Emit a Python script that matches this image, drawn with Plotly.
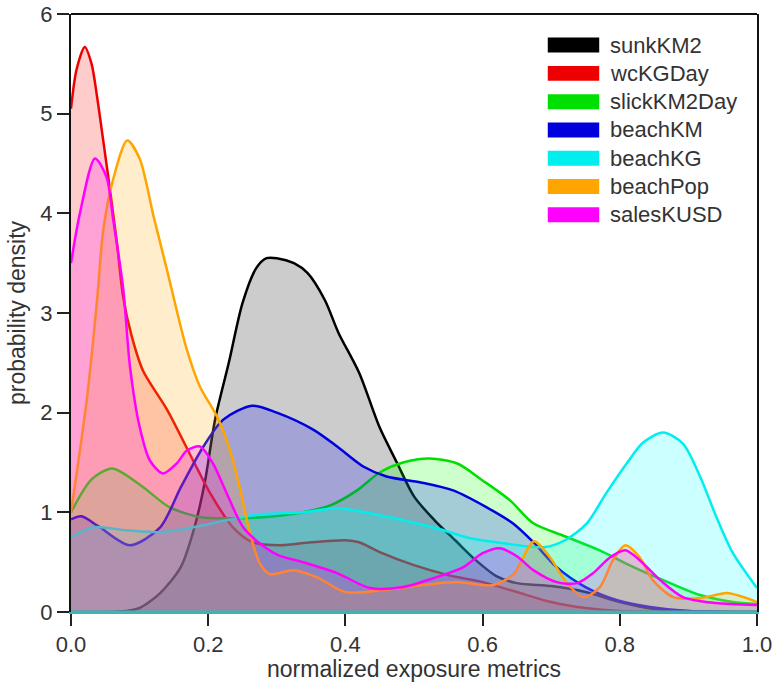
import plotly.graph_objects as go

series_names = ["sunkKM2", "wcKGDay", "slickKM2Day", "beachKM", "beachKG", "beachPop", "salesKUSD"]
series_colors = ["#000000", "#ee0000", "#00e000", "#0000dd", "#00eeee", "#ffa500", "#ff00ff"]
fill_colors = ["rgba(0,0,0,0.2)", "rgba(255,0,0,0.2)", "rgba(0,255,0,0.2)", "rgba(0,0,255,0.2)",
               "rgba(0,255,255,0.2)", "rgba(255,165,0,0.2)", "rgba(255,0,255,0.2)"]

sunk_x = [0, 0.05, 0.08, 0.1, 0.13, 0.16, 0.18, 0.195, 0.21, 0.23, 0.25, 0.27, 0.285, 0.3, 0.325, 0.345,
          0.37, 0.39, 0.42, 0.45, 0.475, 0.5, 0.53, 0.56, 0.59, 0.62, 0.65, 0.7, 0.75, 0.8, 0.85, 0.9, 1.0]
sunk_y = [0, 0, 0.01, 0.04, 0.19, 0.45, 0.85, 1.3, 1.93, 2.5, 3.1, 3.45, 3.55, 3.55, 3.5, 3.4,
          3.13, 2.8, 2.4, 1.85, 1.5, 1.16, 0.92, 0.72, 0.52, 0.36, 0.29, 0.26, 0.2, 0.1, 0.03, 0.01, 0]

wc_x = [0, 0.008, 0.02, 0.03, 0.038, 0.047, 0.057, 0.067, 0.076, 0.088, 0.105, 0.14, 0.178, 0.203, 0.236,
        0.265, 0.305, 0.35, 0.4, 0.42, 0.45, 0.5, 0.55, 0.6, 0.65, 0.7, 0.75, 0.8, 0.9, 1.0]
wc_y = [5.05, 5.44, 5.67, 5.5, 5.17, 4.73, 4.23, 3.7, 3.16, 2.78, 2.42, 2.03, 1.52, 1.19, 0.85,
        0.7, 0.67, 0.7, 0.72, 0.7, 0.6, 0.47, 0.37, 0.3, 0.2, 0.1, 0.04, 0.01, 0, 0]

slick_x = [0, 0.03, 0.06, 0.1, 0.144, 0.19, 0.23, 0.28, 0.33, 0.378, 0.417, 0.45, 0.484, 0.523, 0.563,
           0.6, 0.64, 0.674, 0.72, 0.77, 0.82, 0.87, 0.917, 0.965, 1.0]
slick_y = [1.0, 1.33, 1.44, 1.28, 1.05, 0.95, 0.94, 0.95, 0.99, 1.07, 1.22, 1.4, 1.5, 1.54, 1.49,
           1.32, 1.12, 0.89, 0.76, 0.62, 0.45, 0.3, 0.17, 0.1, 0.08]

bkm_x = [0, 0.015, 0.04, 0.086, 0.13, 0.16, 0.193, 0.222, 0.264, 0.3, 0.353, 0.388, 0.426, 0.46, 0.51,
         0.557, 0.606, 0.644, 0.674, 0.708, 0.75, 0.795, 0.844, 0.9, 1.0]
bkm_y = [0.93, 0.96, 0.86, 0.67, 0.85, 1.25, 1.66, 1.93, 2.07, 2.0, 1.83, 1.66, 1.46, 1.36, 1.3,
         1.22, 1.05, 0.89, 0.7, 0.45, 0.25, 0.12, 0.05, 0.01, 0]

bkg_x = [0, 0.032, 0.08, 0.13, 0.178, 0.227, 0.275, 0.338, 0.388, 0.436, 0.484, 0.533, 0.582, 0.63,
         0.69, 0.72, 0.752, 0.78, 0.81, 0.834, 0.863, 0.892, 0.917, 0.941, 0.965, 1.0]
bkg_y = [0.75, 0.85, 0.82, 0.8, 0.85, 0.92, 0.98, 1.0, 1.04, 0.99, 0.92, 0.84, 0.74, 0.69,
         0.65, 0.72, 0.89, 1.19, 1.49, 1.7, 1.8, 1.69, 1.36, 0.95, 0.59, 0.24]

pop_x = [0, 0.023, 0.038, 0.047, 0.061, 0.082, 0.1, 0.12, 0.14, 0.154, 0.169, 0.188, 0.213, 0.232, 0.246,
         0.261, 0.275, 0.29, 0.324, 0.358, 0.4, 0.455, 0.513, 0.563, 0.615, 0.645, 0.675, 0.698, 0.723,
         0.747, 0.771, 0.79, 0.808, 0.829, 0.848, 0.878, 0.917, 0.956, 0.98, 1.0]
pop_y = [1.0, 2.13, 3.13, 3.83, 4.33, 4.73, 4.55, 3.98, 3.43, 3.03, 2.63, 2.26, 1.96, 1.62, 1.25,
         0.79, 0.49, 0.38, 0.42, 0.35, 0.2, 0.22, 0.27, 0.3, 0.27, 0.38, 0.71, 0.55, 0.29,
         0.15, 0.25, 0.52, 0.67, 0.55, 0.32, 0.15, 0.14, 0.19, 0.15, 0.1]

sales_x = [0, 0.013, 0.035, 0.052, 0.061, 0.076, 0.086, 0.1, 0.115, 0.134, 0.154, 0.169, 0.188, 0.207,
           0.227, 0.251, 0.275, 0.302, 0.338, 0.388, 0.436, 0.484, 0.533, 0.572, 0.6, 0.625, 0.65, 0.674,
           0.708, 0.738, 0.761, 0.786, 0.808, 0.829, 0.859, 0.892, 0.94, 1.0]
sales_y = [3.5, 4.0, 4.55, 4.36, 3.96, 3.25, 2.46, 1.86, 1.52, 1.39, 1.49, 1.62, 1.66, 1.49,
           1.19, 0.85, 0.69, 0.57, 0.5, 0.39, 0.24, 0.25, 0.35, 0.45, 0.59, 0.64, 0.56, 0.42,
           0.3, 0.29, 0.39, 0.55, 0.62, 0.52, 0.32, 0.15, 0.09, 0.07]

x_ticks = [0.0, 0.2, 0.4, 0.6, 0.8, 1.0]
y_ticks = [0, 1, 2, 3, 4, 5, 6]

series_x = [sunk_x, wc_x, slick_x, bkm_x, bkg_x, pop_x, sales_x]
series_y = [sunk_y, wc_y, slick_y, bkm_y, bkg_y, pop_y, sales_y]

FONT = "Liberation Sans, Arial, sans-serif"

fig = go.Figure()
for name, xs, ys, lc, fc in zip(series_names, series_x, series_y, series_colors, fill_colors):
    fig.add_trace(go.Scatter(
        x=xs, y=ys, name=name, mode="lines", fill="tozeroy", fillcolor=fc,
        line=dict(color=lc, width=2.5, shape="spline", smoothing=0.8),
        showlegend=False, hoverinfo="skip"))

shapes = [
    dict(type="line", xref="paper", yref="paper", x0=0, x1=1, y0=1, y1=1,
         line=dict(color="#111111", width=2), layer="above"),
    dict(type="line", xref="paper", yref="y", x0=0, x1=1, y0=0, y1=0,
         line=dict(color="#3fb4b4", width=3), layer="above"),
]
annotations = []
# manual legend (layout positions)
leg_top = 0.948
leg_step = 0.0473
for i, (name, lc) in enumerate(zip(series_names, series_colors)):
    yc = leg_top - i * leg_step
    shapes.append(dict(type="rect", xref="paper", yref="paper",
                       x0=0.695, x1=0.770, y0=yc - 0.0125, y1=yc + 0.0125,
                       fillcolor=lc, line=dict(color=lc, width=0)))
    annotations.append(dict(xref="paper", yref="paper", x=0.783, y=yc, text=name,
                            showarrow=False, xanchor="left", yanchor="middle",
                            font=dict(family=FONT, size=22, color="#333333")))

fig.update_layout(
    width=776, height=682,
    margin=dict(l=71, r=19, t=14, b=70),
    paper_bgcolor="white", plot_bgcolor="white",
    font=dict(family=FONT, size=22, color="#333333"),
    shapes=shapes, annotations=annotations,
    xaxis=dict(range=[0, 1], tickvals=x_ticks, ticktext=[f"{v:.1f}" for v in x_ticks],
               ticks="outside", ticklen=12, tickwidth=2, tickcolor="#222222",
               showline=True, linecolor="#3fb4b4", linewidth=2, mirror=False,
               showgrid=False, zeroline=False, automargin=False,
               title=dict(text="normalized exposure metrics", font=dict(size=23), standoff=10)),
    yaxis=dict(range=[0, 6], tickvals=y_ticks, ticks="outside", ticklen=12, tickwidth=2,
               tickcolor="#222222", showline=True, linecolor="#111111", linewidth=2, mirror=True,
               showgrid=False, zeroline=False, automargin=False,
               title=dict(text="probability density", font=dict(size=23), standoff=8)),
)

fig.write_html("out.html", config={"displayModeBar": False},
               post_script="document.body.style.margin='0';")
